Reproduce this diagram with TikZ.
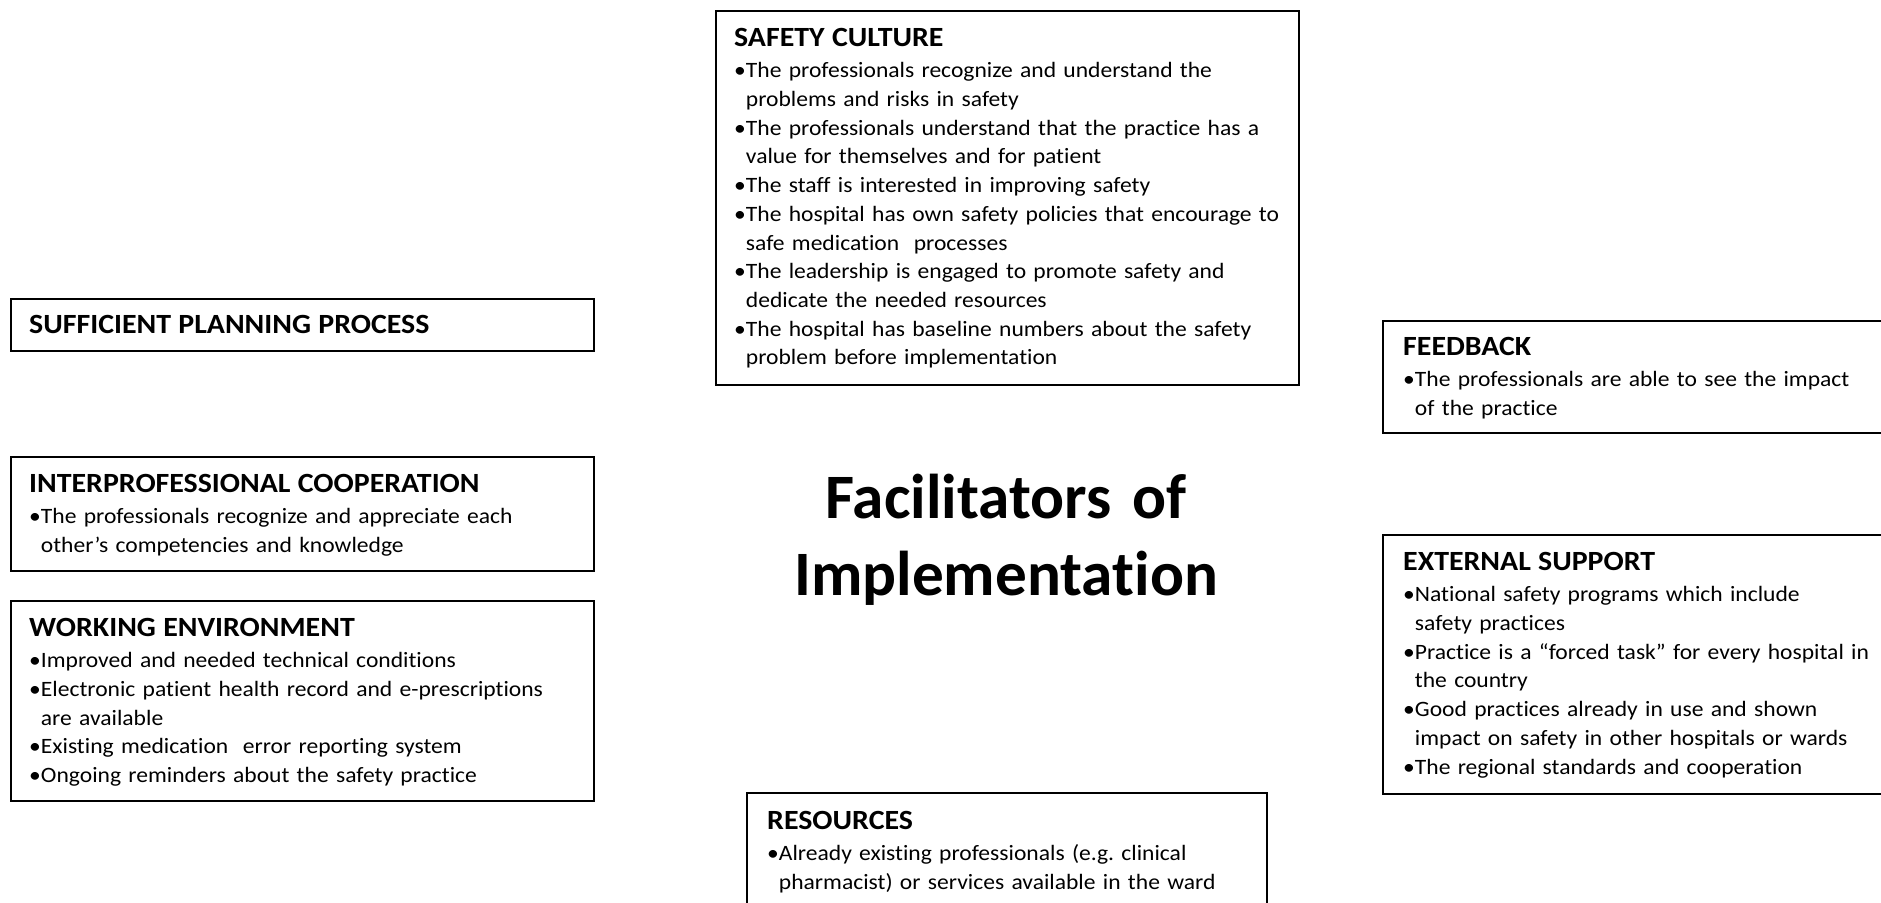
\documentclass[tikz,border=0pt]{standalone}
\usepackage{fontspec}
\setmainfont{Carlito}[Ligatures=NoCommon]
% box text: slightly wide glyphs with tight word spacing
\newfontfamily\boxfont{Carlito}[Ligatures=NoCommon,FakeStretch=1.075,WordSpace=0.7]
% heading line of a box, and the indent that lines up wrapped bullet text
\newcommand\hd[1]{{\fontsize{27.9}{28.8}\selectfont\bfseries #1}}
\newcommand\ind{\phantom{•}}
\frenchspacing
\begin{document}
\begin{tikzpicture}[x=1bp,y=-1bp,
  frame/.style={draw=black,line width=2bp,inner sep=0pt,anchor=north west},
  body/.style={anchor=base west,inner sep=0pt,text width=800bp,align=left,
    font=\boxfont\fontsize{22}{28.8}\selectfont},
  title/.style={anchor=base,inner sep=0pt,text width=700bp,align=center,
    font=\fontsize{63.5}{78}\selectfont\bfseries}]
\clip (0,0) rectangle (1881,903);
\fill[white] (0,0) rectangle (1881,903);

% frames
\node[frame,minimum width=583bp,minimum height=374bp] (safetybox) at (715,10) {};
\node[frame,minimum width=583bp,minimum height=52bp]  (planbox)   at (10,298) {};
\node[frame,minimum width=583bp,minimum height=114bp] (coopbox)   at (10,456) {};
\node[frame,minimum width=583bp,minimum height=200bp] (workbox)   at (10,600) {};
\node[frame,minimum width=530bp,minimum height=112bp] (feedbox)   at (1382,320) {};
\node[frame,minimum width=530bp,minimum height=259bp] (extbox)    at (1382,534) {};
\node[frame,minimum width=520bp,minimum height=200bp] (resbox)    at (746,792) {};

% contents
\node[body] (safety) at (734,46) {\hd{SAFETY CULTURE}\\[3.2bp]
•The professionals recognize and understand the\\
\ind problems and risks in safety\\
•The professionals understand that the practice has a\\
\ind value for themselves and for patient\\
•The staff is interested in improving safety\\
•The hospital has own safety policies that encourage to\\
\ind safe medication\ \ processes\\
•The leadership is engaged to promote safety and\\
\ind dedicate the needed resources\\
•The hospital has baseline numbers about the safety\\
\ind problem before implementation};

\node[body] (plan) at (29,333) {\hd{SUFFICIENT PLANNING PROCESS}};

\node[body] (coop) at (29,492) {\hd{INTERPROFESSIONAL COOPERATION}\\[3.2bp]
•The professionals recognize and appreciate each\\
\ind other’s competencies and knowledge};

\node[body] (work) at (29,636) {\hd{WORKING ENVIRONMENT}\\[3.2bp]
•Improved and needed technical conditions\\
•Electronic patient health record and e-prescriptions\\
\ind are available\\
•Existing medication\ \ error reporting system\\
•Ongoing reminders about the safety practice};

\node[body] (feed) at (1403,355) {\hd{FEEDBACK}\\[3.2bp]
•The professionals are able to see the impact\\
\ind of the practice};

\node[body] (ext) at (1403,570) {\hd{EXTERNAL SUPPORT}\\[3.2bp]
•National safety programs which include\\
\ind safety practices\\
•Practice is a “forced task” for every hospital in\\
\ind the country\\
•Good practices already in use and shown\\
\ind impact on safety in other hospitals or wards\\
•The regional standards and cooperation};

\node[body] (res) at (767,829) {\hd{RESOURCES}\\[3.2bp]
•Already existing professionals (e.g. clinical\\
\ind pharmacist) or services available in the ward};

\node[title] (main) at (1006,518) {Facilitators of\\Implementation};
\end{tikzpicture}
\end{document}
